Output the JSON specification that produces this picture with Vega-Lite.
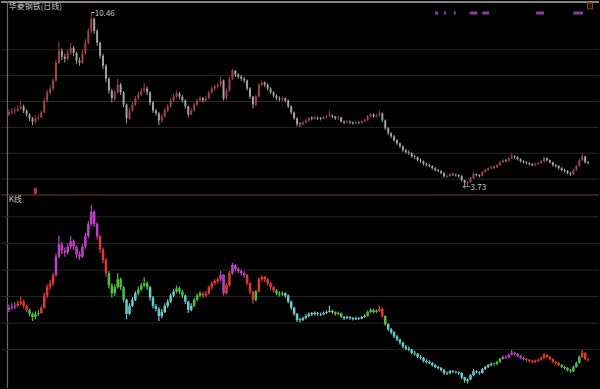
{
  "$schema": "https://vega.github.io/schema/vega-lite/v6.json",
  "width": 600,
  "height": 389,
  "autosize": {"type": "fit", "contains": "padding"},
  "padding": 0,
  "background": "#000000",
  "config": {"view": {"stroke": null}},
  "datasets": {
    "k": [
      {"i":1,"o":6.50,"c":6.58,"h":6.70,"l":6.42,"k":"m"},
      {"i":2,"o":6.58,"c":6.62,"h":6.75,"l":6.50,"k":"m"},
      {"i":3,"o":6.62,"c":6.65,"h":6.78,"l":6.52,"k":"m"},
      {"i":4,"o":6.65,"c":6.73,"h":6.85,"l":6.60,"k":"r"},
      {"i":5,"o":6.73,"c":6.81,"h":7.00,"l":6.68,"k":"r"},
      {"i":6,"o":6.81,"c":6.65,"h":6.88,"l":6.55,"k":"r"},
      {"i":7,"o":6.65,"c":6.50,"h":6.70,"l":6.42,"k":"r"},
      {"i":8,"o":6.50,"c":6.35,"h":6.55,"l":6.25,"k":"g"},
      {"i":9,"o":6.35,"c":6.23,"h":6.40,"l":6.08,"k":"g"},
      {"i":10,"o":6.23,"c":6.35,"h":6.45,"l":6.15,"k":"g"},
      {"i":11,"o":6.35,"c":6.38,"h":6.50,"l":6.27,"k":"g"},
      {"i":12,"o":6.38,"c":6.58,"h":6.65,"l":6.35,"k":"r"},
      {"i":13,"o":6.58,"c":7.04,"h":7.15,"l":6.55,"k":"r"},
      {"i":14,"o":7.04,"c":7.35,"h":7.45,"l":6.95,"k":"r"},
      {"i":15,"o":7.35,"c":7.50,"h":7.62,"l":7.25,"k":"r"},
      {"i":16,"o":7.50,"c":7.81,"h":7.90,"l":7.40,"k":"r"},
      {"i":17,"o":7.81,"c":8.50,"h":8.62,"l":7.75,"k":"m"},
      {"i":18,"o":8.50,"c":8.96,"h":9.30,"l":8.45,"k":"m"},
      {"i":19,"o":8.96,"c":8.73,"h":9.05,"l":8.60,"k":"m"},
      {"i":20,"o":8.73,"c":8.65,"h":8.85,"l":8.50,"k":"m"},
      {"i":21,"o":8.65,"c":8.88,"h":9.00,"l":8.58,"k":"m"},
      {"i":22,"o":8.88,"c":9.08,"h":9.27,"l":8.80,"k":"m"},
      {"i":23,"o":9.08,"c":8.88,"h":9.15,"l":8.75,"k":"m"},
      {"i":24,"o":8.88,"c":8.58,"h":8.92,"l":8.45,"k":"m"},
      {"i":25,"o":8.58,"c":8.50,"h":8.70,"l":8.38,"k":"m"},
      {"i":26,"o":8.50,"c":8.88,"h":8.98,"l":8.45,"k":"m"},
      {"i":27,"o":8.88,"c":9.27,"h":9.40,"l":8.80,"k":"m"},
      {"i":28,"o":9.27,"c":9.73,"h":9.85,"l":9.20,"k":"m"},
      {"i":29,"o":9.73,"c":10.19,"h":10.46,"l":9.65,"k":"m"},
      {"i":30,"o":10.19,"c":9.73,"h":10.25,"l":9.62,"k":"m"},
      {"i":31,"o":9.73,"c":9.27,"h":9.80,"l":9.15,"k":"m"},
      {"i":32,"o":9.27,"c":8.77,"h":9.32,"l":8.65,"k":"r"},
      {"i":33,"o":8.77,"c":8.38,"h":8.85,"l":8.25,"k":"r"},
      {"i":34,"o":8.38,"c":7.88,"h":8.45,"l":7.75,"k":"r"},
      {"i":35,"o":7.88,"c":7.42,"h":7.95,"l":7.30,"k":"g"},
      {"i":36,"o":7.42,"c":7.12,"h":7.50,"l":6.96,"k":"g"},
      {"i":37,"o":7.12,"c":7.35,"h":7.45,"l":7.02,"k":"g"},
      {"i":38,"o":7.35,"c":7.65,"h":7.88,"l":7.30,"k":"g"},
      {"i":39,"o":7.65,"c":7.35,"h":7.72,"l":7.25,"k":"g"},
      {"i":40,"o":7.35,"c":6.88,"h":7.40,"l":6.78,"k":"g"},
      {"i":41,"o":6.88,"c":6.35,"h":6.92,"l":6.15,"k":"c"},
      {"i":42,"o":6.35,"c":6.65,"h":6.75,"l":6.30,"k":"c"},
      {"i":43,"o":6.65,"c":6.88,"h":6.98,"l":6.60,"k":"c"},
      {"i":44,"o":6.88,"c":7.12,"h":7.20,"l":6.82,"k":"c"},
      {"i":45,"o":7.12,"c":7.27,"h":7.38,"l":7.05,"k":"g"},
      {"i":46,"o":7.27,"c":7.42,"h":7.52,"l":7.20,"k":"g"},
      {"i":47,"o":7.42,"c":7.50,"h":7.73,"l":7.35,"k":"g"},
      {"i":48,"o":7.50,"c":7.35,"h":7.58,"l":7.25,"k":"g"},
      {"i":49,"o":7.35,"c":6.96,"h":7.40,"l":6.85,"k":"c"},
      {"i":50,"o":6.96,"c":6.65,"h":7.02,"l":6.55,"k":"c"},
      {"i":51,"o":6.65,"c":6.54,"h":6.72,"l":6.45,"k":"c"},
      {"i":52,"o":6.54,"c":6.27,"h":6.60,"l":6.08,"k":"c"},
      {"i":53,"o":6.27,"c":6.42,"h":6.52,"l":6.18,"k":"c"},
      {"i":54,"o":6.42,"c":6.65,"h":6.75,"l":6.38,"k":"c"},
      {"i":55,"o":6.65,"c":6.81,"h":6.90,"l":6.58,"k":"c"},
      {"i":56,"o":6.81,"c":7.04,"h":7.12,"l":6.75,"k":"c"},
      {"i":57,"o":7.04,"c":7.19,"h":7.28,"l":6.98,"k":"c"},
      {"i":58,"o":7.19,"c":7.31,"h":7.42,"l":7.12,"k":"g"},
      {"i":59,"o":7.31,"c":7.19,"h":7.38,"l":7.10,"k":"g"},
      {"i":60,"o":7.19,"c":7.04,"h":7.25,"l":6.95,"k":"g"},
      {"i":61,"o":7.04,"c":6.81,"h":7.08,"l":6.72,"k":"c"},
      {"i":62,"o":6.81,"c":6.50,"h":6.85,"l":6.38,"k":"c"},
      {"i":63,"o":6.50,"c":6.65,"h":6.75,"l":6.45,"k":"c"},
      {"i":64,"o":6.65,"c":6.88,"h":6.96,"l":6.60,"k":"g"},
      {"i":65,"o":6.88,"c":7.04,"h":7.12,"l":6.82,"k":"g"},
      {"i":66,"o":7.04,"c":7.12,"h":7.20,"l":6.98,"k":"g"},
      {"i":67,"o":7.12,"c":7.04,"h":7.18,"l":6.95,"k":"r"},
      {"i":68,"o":7.04,"c":7.12,"h":7.22,"l":6.98,"k":"r"},
      {"i":69,"o":7.12,"c":7.35,"h":7.42,"l":7.08,"k":"r"},
      {"i":70,"o":7.35,"c":7.50,"h":7.58,"l":7.28,"k":"r"},
      {"i":71,"o":7.50,"c":7.58,"h":7.65,"l":7.42,"k":"r"},
      {"i":72,"o":7.58,"c":7.65,"h":7.72,"l":7.50,"k":"r"},
      {"i":73,"o":7.65,"c":7.81,"h":7.96,"l":7.58,"k":"m"},
      {"i":74,"o":7.81,"c":7.12,"h":7.85,"l":7.04,"k":"m"},
      {"i":75,"o":7.12,"c":7.42,"h":7.50,"l":7.08,"k":"r"},
      {"i":76,"o":7.42,"c":7.88,"h":7.96,"l":7.38,"k":"r"},
      {"i":77,"o":7.88,"c":8.19,"h":8.27,"l":7.82,"k":"m"},
      {"i":78,"o":8.19,"c":8.04,"h":8.22,"l":7.95,"k":"m"},
      {"i":79,"o":8.04,"c":7.96,"h":8.10,"l":7.88,"k":"m"},
      {"i":80,"o":7.96,"c":7.88,"h":8.02,"l":7.80,"k":"m"},
      {"i":81,"o":7.88,"c":7.81,"h":7.95,"l":7.72,"k":"m"},
      {"i":82,"o":7.81,"c":7.50,"h":7.85,"l":7.42,"k":"r"},
      {"i":83,"o":7.50,"c":7.19,"h":7.55,"l":7.10,"k":"r"},
      {"i":84,"o":7.19,"c":6.88,"h":7.22,"l":6.73,"k":"r"},
      {"i":85,"o":6.88,"c":7.19,"h":7.25,"l":6.82,"k":"g"},
      {"i":86,"o":7.19,"c":7.65,"h":7.72,"l":7.15,"k":"r"},
      {"i":87,"o":7.65,"c":7.73,"h":7.81,"l":7.58,"k":"r"},
      {"i":88,"o":7.73,"c":7.65,"h":7.78,"l":7.55,"k":"r"},
      {"i":89,"o":7.65,"c":7.50,"h":7.70,"l":7.42,"k":"r"},
      {"i":90,"o":7.50,"c":7.35,"h":7.55,"l":7.28,"k":"r"},
      {"i":91,"o":7.35,"c":7.23,"h":7.40,"l":7.15,"k":"r"},
      {"i":92,"o":7.23,"c":7.12,"h":7.28,"l":7.05,"k":"g"},
      {"i":93,"o":7.12,"c":7.08,"h":7.20,"l":7.00,"k":"g"},
      {"i":94,"o":7.08,"c":7.12,"h":7.20,"l":7.02,"k":"g"},
      {"i":95,"o":7.12,"c":7.04,"h":7.16,"l":6.96,"k":"c"},
      {"i":96,"o":7.04,"c":6.81,"h":7.08,"l":6.75,"k":"c"},
      {"i":97,"o":6.81,"c":6.58,"h":6.85,"l":6.50,"k":"c"},
      {"i":98,"o":6.58,"c":6.35,"h":6.62,"l":6.28,"k":"c"},
      {"i":99,"o":6.35,"c":6.12,"h":6.38,"l":6.04,"k":"c"},
      {"i":100,"o":6.15,"c":6.12,"h":6.20,"l":6.02,"k":"c"},
      {"i":101,"o":6.12,"c":6.19,"h":6.25,"l":6.08,"k":"c"},
      {"i":102,"o":6.19,"c":6.27,"h":6.33,"l":6.15,"k":"c"},
      {"i":103,"o":6.27,"c":6.35,"h":6.40,"l":6.22,"k":"c"},
      {"i":104,"o":6.38,"c":6.33,"h":6.42,"l":6.27,"k":"c"},
      {"i":105,"o":6.33,"c":6.38,"h":6.44,"l":6.30,"k":"c"},
      {"i":106,"o":6.38,"c":6.35,"h":6.42,"l":6.28,"k":"c"},
      {"i":107,"o":6.35,"c":6.33,"h":6.40,"l":6.27,"k":"c"},
      {"i":108,"o":6.33,"c":6.38,"h":6.44,"l":6.30,"k":"c"},
      {"i":109,"o":6.38,"c":6.42,"h":6.48,"l":6.35,"k":"c"},
      {"i":110,"o":6.42,"c":6.46,"h":6.65,"l":6.40,"k":"c"},
      {"i":111,"o":6.46,"c":6.42,"h":6.50,"l":6.35,"k":"c"},
      {"i":112,"o":6.42,"c":6.35,"h":6.45,"l":6.28,"k":"g"},
      {"i":113,"o":6.35,"c":6.38,"h":6.44,"l":6.30,"k":"g"},
      {"i":114,"o":6.38,"c":6.23,"h":6.40,"l":6.18,"k":"g"},
      {"i":115,"o":6.23,"c":6.19,"h":6.27,"l":6.12,"k":"c"},
      {"i":116,"o":6.19,"c":6.23,"h":6.28,"l":6.15,"k":"c"},
      {"i":117,"o":6.23,"c":6.19,"h":6.27,"l":6.13,"k":"c"},
      {"i":118,"o":6.19,"c":6.15,"h":6.23,"l":6.10,"k":"c"},
      {"i":119,"o":6.15,"c":6.19,"h":6.25,"l":6.12,"k":"c"},
      {"i":120,"o":6.19,"c":6.17,"h":6.23,"l":6.12,"k":"c"},
      {"i":121,"o":6.17,"c":6.23,"h":6.28,"l":6.15,"k":"c"},
      {"i":122,"o":6.23,"c":6.27,"h":6.33,"l":6.20,"k":"c"},
      {"i":123,"o":6.27,"c":6.42,"h":6.48,"l":6.25,"k":"g"},
      {"i":124,"o":6.42,"c":6.50,"h":6.56,"l":6.38,"k":"g"},
      {"i":125,"o":6.50,"c":6.42,"h":6.54,"l":6.36,"k":"g"},
      {"i":126,"o":6.42,"c":6.46,"h":6.52,"l":6.38,"k":"g"},
      {"i":127,"o":6.46,"c":6.54,"h":6.65,"l":6.42,"k":"r"},
      {"i":128,"o":6.54,"c":6.27,"h":6.58,"l":6.20,"k":"r"},
      {"i":129,"o":6.27,"c":5.96,"h":6.30,"l":5.90,"k":"g"},
      {"i":130,"o":5.96,"c":5.77,"h":6.00,"l":5.70,"k":"c"},
      {"i":131,"o":5.77,"c":5.65,"h":5.82,"l":5.58,"k":"c"},
      {"i":132,"o":5.65,"c":5.50,"h":5.70,"l":5.44,"k":"c"},
      {"i":133,"o":5.50,"c":5.38,"h":5.55,"l":5.32,"k":"c"},
      {"i":134,"o":5.38,"c":5.27,"h":5.42,"l":5.20,"k":"c"},
      {"i":135,"o":5.27,"c":5.12,"h":5.30,"l":5.05,"k":"c"},
      {"i":136,"o":5.12,"c":5.04,"h":5.18,"l":4.98,"k":"c"},
      {"i":137,"o":5.04,"c":5.00,"h":5.12,"l":4.94,"k":"c"},
      {"i":138,"o":5.00,"c":4.88,"h":5.04,"l":4.82,"k":"c"},
      {"i":139,"o":4.88,"c":4.85,"h":4.95,"l":4.78,"k":"c"},
      {"i":140,"o":4.85,"c":4.73,"h":4.88,"l":4.68,"k":"c"},
      {"i":141,"o":4.73,"c":4.69,"h":4.80,"l":4.63,"k":"c"},
      {"i":142,"o":4.69,"c":4.58,"h":4.72,"l":4.52,"k":"c"},
      {"i":143,"o":4.58,"c":4.54,"h":4.64,"l":4.48,"k":"c"},
      {"i":144,"o":4.54,"c":4.50,"h":4.60,"l":4.45,"k":"c"},
      {"i":145,"o":4.50,"c":4.42,"h":4.54,"l":4.37,"k":"c"},
      {"i":146,"o":4.42,"c":4.35,"h":4.46,"l":4.30,"k":"c"},
      {"i":147,"o":4.35,"c":4.31,"h":4.40,"l":4.26,"k":"c"},
      {"i":148,"o":4.31,"c":4.23,"h":4.35,"l":4.18,"k":"c"},
      {"i":149,"o":4.23,"c":4.12,"h":4.27,"l":4.06,"k":"c"},
      {"i":150,"o":4.10,"c":4.12,"h":4.18,"l":4.05,"k":"c"},
      {"i":151,"o":4.12,"c":4.19,"h":4.24,"l":4.08,"k":"c"},
      {"i":152,"o":4.19,"c":4.17,"h":4.24,"l":4.12,"k":"c"},
      {"i":153,"o":4.17,"c":4.15,"h":4.21,"l":4.10,"k":"c"},
      {"i":154,"o":4.15,"c":4.12,"h":4.18,"l":4.05,"k":"c"},
      {"i":155,"o":4.12,"c":3.96,"h":4.15,"l":3.90,"k":"c"},
      {"i":156,"o":3.96,"c":3.85,"h":3.98,"l":3.76,"k":"c"},
      {"i":157,"o":3.82,"c":3.88,"h":3.92,"l":3.73,"k":"c"},
      {"i":158,"o":3.88,"c":4.04,"h":4.08,"l":3.85,"k":"c"},
      {"i":159,"o":4.04,"c":4.19,"h":4.27,"l":4.00,"k":"c"},
      {"i":160,"o":4.19,"c":4.15,"h":4.23,"l":4.10,"k":"c"},
      {"i":161,"o":4.15,"c":4.12,"h":4.19,"l":4.06,"k":"c"},
      {"i":162,"o":4.12,"c":4.27,"h":4.31,"l":4.10,"k":"c"},
      {"i":163,"o":4.27,"c":4.35,"h":4.40,"l":4.24,"k":"c"},
      {"i":164,"o":4.35,"c":4.42,"h":4.46,"l":4.31,"k":"c"},
      {"i":165,"o":4.42,"c":4.46,"h":4.52,"l":4.38,"k":"c"},
      {"i":166,"o":4.48,"c":4.46,"h":4.52,"l":4.40,"k":"g"},
      {"i":167,"o":4.46,"c":4.54,"h":4.58,"l":4.42,"k":"g"},
      {"i":168,"o":4.54,"c":4.65,"h":4.70,"l":4.50,"k":"g"},
      {"i":169,"o":4.65,"c":4.73,"h":4.78,"l":4.62,"k":"m"},
      {"i":170,"o":4.73,"c":4.71,"h":4.78,"l":4.65,"k":"m"},
      {"i":171,"o":4.71,"c":4.81,"h":4.86,"l":4.68,"k":"m"},
      {"i":172,"o":4.81,"c":4.88,"h":5.00,"l":4.78,"k":"m"},
      {"i":173,"o":4.88,"c":4.85,"h":4.92,"l":4.78,"k":"m"},
      {"i":174,"o":4.85,"c":4.77,"h":4.88,"l":4.72,"k":"m"},
      {"i":175,"o":4.77,"c":4.69,"h":4.80,"l":4.64,"k":"m"},
      {"i":176,"o":4.69,"c":4.65,"h":4.73,"l":4.60,"k":"m"},
      {"i":177,"o":4.65,"c":4.62,"h":4.69,"l":4.56,"k":"r"},
      {"i":178,"o":4.62,"c":4.58,"h":4.65,"l":4.52,"k":"r"},
      {"i":179,"o":4.58,"c":4.54,"h":4.62,"l":4.49,"k":"r"},
      {"i":180,"o":4.54,"c":4.58,"h":4.63,"l":4.50,"k":"r"},
      {"i":181,"o":4.58,"c":4.62,"h":4.67,"l":4.55,"k":"r"},
      {"i":182,"o":4.62,"c":4.69,"h":4.74,"l":4.58,"k":"r"},
      {"i":183,"o":4.69,"c":4.81,"h":4.88,"l":4.65,"k":"r"},
      {"i":184,"o":4.81,"c":4.73,"h":4.85,"l":4.68,"k":"r"},
      {"i":185,"o":4.73,"c":4.65,"h":4.76,"l":4.60,"k":"r"},
      {"i":186,"o":4.65,"c":4.54,"h":4.68,"l":4.48,"k":"r"},
      {"i":187,"o":4.54,"c":4.50,"h":4.58,"l":4.44,"k":"r"},
      {"i":188,"o":4.50,"c":4.42,"h":4.54,"l":4.37,"k":"r"},
      {"i":189,"o":4.42,"c":4.35,"h":4.46,"l":4.30,"k":"g"},
      {"i":190,"o":4.35,"c":4.31,"h":4.40,"l":4.25,"k":"g"},
      {"i":191,"o":4.31,"c":4.23,"h":4.35,"l":4.18,"k":"g"},
      {"i":192,"o":4.23,"c":4.19,"h":4.27,"l":4.12,"k":"g"},
      {"i":193,"o":4.19,"c":4.35,"h":4.40,"l":4.15,"k":"g"},
      {"i":194,"o":4.35,"c":4.50,"h":4.55,"l":4.32,"k":"g"},
      {"i":195,"o":4.50,"c":4.73,"h":4.78,"l":4.48,"k":"g"},
      {"i":196,"o":4.73,"c":4.88,"h":5.00,"l":4.70,"k":"r"},
      {"i":197,"o":4.88,"c":4.65,"h":4.90,"l":4.60,"k":"r"},
      {"i":198,"o":4.65,"c":4.62,"h":4.70,"l":4.56,"k":"r"}
    ],
    "marks": [
      {"a":146.0,"b":147.0},
      {"a":149.0,"b":149.7},
      {"a":152.3,"b":153.0},
      {"a":157.7,"b":160.3},
      {"a":162.0,"b":164.3},
      {"a":180.3,"b":183.0},
      {"a":193.0,"b":196.3}
    ],
    "topgrid": [{"p": 4}, {"p": 5}, {"p": 6}, {"p": 7}, {"p": 8}, {"p": 9}],
    "botgrid": [{"p": 5}, {"p": 6}, {"p": 7}, {"p": 8}, {"p": 9}, {"p": 10}]
  },
  "resolve": {"scale": {"y": "independent"}},
  "layer": [
    {
      "layer": [
        {
          "data": {"name": "topgrid"},
          "mark": {"type": "rule", "color": "#262626", "strokeWidth": 1},
          "encoding": {
            "y": {"field": "p", "type": "quantitative", "scale": {"domain": [-4.077, 10.885], "nice": false, "zero": false}, "axis": null}
          }
        },
        {
          "data": {"values": [{"p": 3.385}]},
          "mark": {"type": "rule", "color": "#4e2622", "strokeWidth": 1.5},
          "encoding": {
            "y": {"field": "p", "type": "quantitative", "scale": {"domain": [-4.077, 10.885], "nice": false, "zero": false}, "axis": null}
          }
        },
        {
          "data": {"values": [{"p": 10.85}]},
          "mark": {"type": "rule", "color": "#b0b0b0", "strokeWidth": 1.5},
          "encoding": {
            "y": {"field": "p", "type": "quantitative", "scale": {"domain": [-4.077, 10.885], "nice": false, "zero": false}, "axis": null}
          }
        },
        {
          "data": {"values": [{"i": 0.5}]},
          "mark": {"type": "rule", "color": "#6a6a6a", "strokeWidth": 1.2},
          "encoding": {
            "x": {"field": "i", "type": "quantitative", "scale": {"domain": [0, 200], "nice": false, "zero": false}, "axis": null}
          }
        },
        {
          "data": {"name": "k"},
          "mark": {"type": "rule", "strokeWidth": 1, "opacity": 0.9},
          "encoding": {
            "x": {"field": "i", "type": "quantitative", "scale": {"domain": [0, 200], "nice": false, "zero": false}, "axis": null},
            "y": {"field": "l", "type": "quantitative", "scale": {"domain": [-4.077, 10.885], "nice": false, "zero": false}, "axis": null},
            "y2": {"field": "h"},
            "color": {"condition": {"test": "datum.c >= datum.o", "value": "#a84656"}, "value": "#aaaaaa"}
          }
        },
        {
          "data": {"name": "k"},
          "mark": {"type": "bar", "size": 2, "opacity": 0.9},
          "encoding": {
            "x": {"field": "i", "type": "quantitative", "scale": {"domain": [0, 200], "nice": false, "zero": false}, "axis": null},
            "y": {"field": "o", "type": "quantitative", "scale": {"domain": [-4.077, 10.885], "nice": false, "zero": false}, "axis": null},
            "y2": {"field": "c"},
            "color": {"condition": {"test": "datum.c >= datum.o", "value": "#a84656"}, "value": "#aaaaaa"}
          }
        },
        {
          "data": {"values": [{"i": 10, "lo": 3.42, "hi": 3.65}]},
          "mark": {"type": "rule", "strokeWidth": 3, "color": "#c03030"},
          "encoding": {
            "x": {"field": "i", "type": "quantitative", "scale": {"domain": [0, 200], "nice": false, "zero": false}, "axis": null},
            "y": {"field": "lo", "type": "quantitative", "scale": {"domain": [-4.077, 10.885], "nice": false, "zero": false}, "axis": null},
            "y2": {"field": "hi"}
          }
        },
        {
          "data": {"name": "marks"},
          "mark": {"type": "rule", "strokeWidth": 3, "color": "#a048c0", "opacity": 0.85},
          "encoding": {
            "x": {"field": "a", "type": "quantitative", "scale": {"domain": [0, 200], "nice": false, "zero": false}, "axis": null},
            "x2": {"field": "b"},
            "y": {"datum": 10.42, "type": "quantitative", "scale": {"domain": [-4.077, 10.885], "nice": false, "zero": false}, "axis": null}
          }
        },
        {
          "data": {"values": [{"a": 197.8, "b": 199.5, "lo": 10.58, "hi": 10.81}]},
          "mark": {"type": "rect", "fill": "#2a1208", "stroke": "#8a4424", "strokeWidth": 1},
          "encoding": {
            "x": {"field": "a", "type": "quantitative", "scale": {"domain": [0, 200], "nice": false, "zero": false}, "axis": null},
            "x2": {"field": "b"},
            "y": {"field": "lo", "type": "quantitative", "scale": {"domain": [-4.077, 10.885], "nice": false, "zero": false}, "axis": null},
            "y2": {"field": "hi"}
          }
        },
        {
          "data": {"values": [
            {"i": 0.9, "p": 10.65, "t": "华菱钢铁(日线)"},
            {"i": 30.2, "p": 10.40, "t": "10.46"},
            {"i": 155.3, "p": 3.64, "t": "←3.73"}
          ]},
          "mark": {"type": "text", "align": "left", "baseline": "middle", "fontSize": 8, "font": "Noto Sans CJK SC", "color": "#c8c8c8"},
          "encoding": {
            "x": {"field": "i", "type": "quantitative", "scale": {"domain": [0, 200], "nice": false, "zero": false}, "axis": null},
            "y": {"field": "p", "type": "quantitative", "scale": {"domain": [-4.077, 10.885], "nice": false, "zero": false}, "axis": null},
            "text": {"field": "t"}
          }
        },
        {
          "data": {"values": [{"a": 29.1, "b": 30.0, "p": 10.44}]},
          "mark": {"type": "rule", "color": "#c8c8c8", "strokeWidth": 1},
          "encoding": {
            "x": {"field": "a", "type": "quantitative", "scale": {"domain": [0, 200], "nice": false, "zero": false}, "axis": null},
            "x2": {"field": "b"},
            "y": {"field": "p", "type": "quantitative", "scale": {"domain": [-4.077, 10.885], "nice": false, "zero": false}, "axis": null}
          }
        }
      ]
    },
    {
      "layer": [
        {
          "data": {"name": "botgrid"},
          "mark": {"type": "rule", "color": "#262626", "strokeWidth": 1},
          "encoding": {
            "y": {"field": "p", "type": "quantitative", "scale": {"domain": [3.558, 18.127], "nice": false, "zero": false}, "axis": null}
          }
        },
        {
          "data": {"name": "k"},
          "mark": {"type": "rule", "strokeWidth": 1.2},
          "encoding": {
            "x": {"field": "i", "type": "quantitative", "scale": {"domain": [0, 200], "nice": false, "zero": false}, "axis": null},
            "y": {"field": "l", "type": "quantitative", "scale": {"domain": [3.558, 18.127], "nice": false, "zero": false}, "axis": null},
            "y2": {"field": "h"},
            "color": {"field": "k", "type": "nominal", "scale": {"domain": ["r", "m", "g", "c"], "range": ["#e03a30", "#c040c8", "#4cc03c", "#6ccaca"]}, "legend": null}
          }
        },
        {
          "data": {"name": "k"},
          "mark": {"type": "bar", "size": 2.5},
          "encoding": {
            "x": {"field": "i", "type": "quantitative", "scale": {"domain": [0, 200], "nice": false, "zero": false}, "axis": null},
            "y": {"field": "o", "type": "quantitative", "scale": {"domain": [3.558, 18.127], "nice": false, "zero": false}, "axis": null},
            "y2": {"field": "c"},
            "color": {"field": "k", "type": "nominal", "scale": {"domain": ["r", "m", "g", "c"], "range": ["#e03a30", "#c040c8", "#4cc03c", "#6ccaca"]}, "legend": null}
          }
        },
        {
          "data": {"values": [{"i": 0.9, "p": 10.62, "t": "K线"}]},
          "mark": {"type": "text", "align": "left", "baseline": "middle", "fontSize": 8, "font": "Noto Sans CJK SC", "color": "#c8c8c8"},
          "encoding": {
            "x": {"field": "i", "type": "quantitative", "scale": {"domain": [0, 200], "nice": false, "zero": false}, "axis": null},
            "y": {"field": "p", "type": "quantitative", "scale": {"domain": [3.558, 18.127], "nice": false, "zero": false}, "axis": null},
            "text": {"field": "t"}
          }
        }
      ]
    }
  ]
}
